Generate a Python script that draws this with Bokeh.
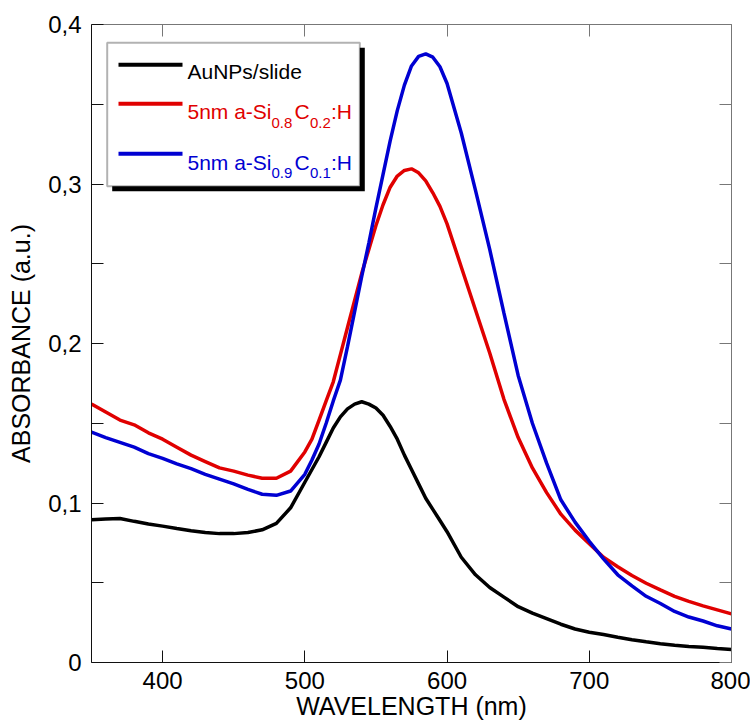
from bokeh.plotting import figure
from bokeh.models import Range1d, LinearAxis, FixedTicker, Label, BoxAnnotation, CustomJSTickFormatter
from bokeh.embed import file_html
from bokeh.resources import INLINE

# ---------------- data ----------------
WAVELENGTH = [350, 360, 370, 380, 390, 400, 410, 420, 430, 440, 450, 460, 470, 480, 490,
              500, 505, 510, 515, 520, 525, 530, 535, 540, 545, 550, 555, 560, 565, 570,
              575, 580, 585, 590, 595, 600, 610, 620, 630, 640, 650, 660, 670, 680, 690,
              700, 710, 720, 730, 740, 750, 760, 770, 780, 790, 800]

AUNPS_SLIDE = [0.0895, 0.0900, 0.0903, 0.0885, 0.0868, 0.0855, 0.0840, 0.0826, 0.0815, 0.0808,
               0.0808, 0.0815, 0.0832, 0.0872, 0.0970, 0.1130, 0.1210, 0.1290, 0.1380, 0.1470,
               0.1540, 0.1590, 0.1620, 0.1635, 0.1620, 0.1595, 0.1550, 0.1480, 0.1400, 0.1300,
               0.1210, 0.1120, 0.1030, 0.0960, 0.0890, 0.0820, 0.0660, 0.0550, 0.0470, 0.0410,
               0.0350, 0.0310, 0.0275, 0.0240, 0.0210, 0.0190, 0.0175, 0.0158, 0.0143, 0.0130,
               0.0118, 0.0108, 0.0100, 0.0095, 0.0088, 0.0082]

SIC_08_02 = [0.1620, 0.1570, 0.1520, 0.1490, 0.1440, 0.1400, 0.1350, 0.1300, 0.1260, 0.1220,
             0.1200, 0.1175, 0.1155, 0.1155, 0.1200, 0.1320, 0.1400, 0.1520, 0.1640, 0.1760,
             0.1930, 0.2100, 0.2270, 0.2440, 0.2590, 0.2740, 0.2870, 0.2980, 0.3050, 0.3085,
             0.3095, 0.3070, 0.3020, 0.2945, 0.2860, 0.2750, 0.2480, 0.2210, 0.1940, 0.1650,
             0.1410, 0.1220, 0.1065, 0.0930, 0.0830, 0.0745, 0.0660, 0.0600, 0.0545, 0.0497,
             0.0455, 0.0415, 0.0383, 0.0355, 0.0330, 0.0305]

SIC_09_01 = [0.1444, 0.1410, 0.1380, 0.1350, 0.1310, 0.1280, 0.1245, 0.1215, 0.1180, 0.1150,
             0.1120, 0.1085, 0.1055, 0.1048, 0.1075, 0.1180, 0.1270, 0.1370, 0.1500, 0.1640,
             0.1770, 0.1980, 0.2200, 0.2420, 0.2630, 0.2850, 0.3060, 0.3270, 0.3460, 0.3620,
             0.3740, 0.3800, 0.3816, 0.3795, 0.3735, 0.3630, 0.3320, 0.2960, 0.2590, 0.2190,
             0.1800, 0.1500, 0.1250, 0.1020, 0.0880, 0.0760, 0.0650, 0.0550, 0.0480, 0.0415,
             0.0370, 0.0320, 0.0285, 0.0260, 0.0230, 0.0210]

X_TICKS = [400, 500, 600, 700, 800]
Y_TICKS = [0, 0.1, 0.2, 0.3, 0.4]
Y_TICK_LABELS = ["0", "0,1", "0,2", "0,3", "0,4"]
Y_MINOR = [0.05, 0.15, 0.25, 0.35]
X_LABEL = "WAVELENGTH (nm)"
Y_LABEL = "ABSORBANCE (a.u.)"

# ---------------- layout ----------------
W, H = 750, 726
BL, BT = 91, 24
BR, BB = W - 731, H - 662
X0, X1, Y0, Y1 = 350, 800, 0.0, 0.4
FW = W - BL - BR
FH = H - BT - BB
FONT = "Liberation Sans"
RED = "#e00000"
BLUE = "#0000d2"


def dx(px):
    return X0 + (px - BL) / FW * (X1 - X0)


def dy(py):
    return Y1 - (py - BT) / FH * (Y1 - Y0)


p = figure(width=W, height=H, output_backend="svg", toolbar_location=None,
           x_range=Range1d(X0, X1), y_range=Range1d(Y0, Y1),
           min_border_left=BL, min_border_right=BR, min_border_top=BT, min_border_bottom=BB)
p.grid.visible = False
p.outline_line_color = None
p.background_fill_color = "white"
p.border_fill_color = "white"

# bottom axis
xa = p.xaxis[0]
xa.ticker = FixedTicker(ticks=X_TICKS, minor_ticks=[])
xa.major_tick_in = 12
xa.major_tick_out = 0
xa.axis_line_color = "#111111"
xa.major_tick_line_color = "#111111"
xa.major_label_text_font = FONT
xa.major_label_text_font_size = "24px"
xa.major_label_text_color = "black"
xa.major_label_standoff = 9
xa.axis_label = X_LABEL
xa.axis_label_text_font = FONT
xa.axis_label_text_font_size = "25px"
xa.axis_label_text_font_style = "normal"
xa.axis_label_text_color = "black"
xa.axis_label_standoff = 0

# left axis
ya = p.yaxis[0]
ya.ticker = FixedTicker(ticks=Y_TICKS, minor_ticks=Y_MINOR)
ya.major_label_overrides = {t: s for t, s in zip(Y_TICKS, Y_TICK_LABELS)}
ya.major_tick_in = 12
ya.major_tick_out = 0
ya.minor_tick_in = 12
ya.minor_tick_out = 0
ya.axis_line_color = "#111111"
ya.major_tick_line_color = "#111111"
ya.minor_tick_line_color = "#111111"
ya.major_label_text_font = FONT
ya.major_label_text_font_size = "24px"
ya.major_label_text_color = "black"
ya.major_label_standoff = 10
ya.axis_label = Y_LABEL
ya.axis_label_text_font = FONT
ya.axis_label_text_font_size = "25px"
ya.axis_label_text_font_style = "normal"
ya.axis_label_text_color = "black"
ya.axis_label_standoff = 10

blank = CustomJSTickFormatter(code="return ''")
top = LinearAxis(ticker=FixedTicker(ticks=X_TICKS, minor_ticks=[]), formatter=blank,
                 major_tick_in=12, major_tick_out=0, axis_line_color="#777777",
                 major_tick_line_color="#777777", major_label_text_font_size="1px",
                 major_label_standoff=0)
right = LinearAxis(ticker=FixedTicker(ticks=Y_TICKS, minor_ticks=Y_MINOR), formatter=blank,
                   major_tick_in=12, major_tick_out=0, minor_tick_in=12, minor_tick_out=0,
                   axis_line_color="#777777", major_tick_line_color="#777777",
                   minor_tick_line_color="#777777", major_label_text_font_size="1px",
                   major_label_standoff=0)
p.add_layout(top, "above")
p.add_layout(right, "right")

# curves
p.line(WAVELENGTH, AUNPS_SLIDE, line_color="black", line_width=3.5)
p.line(WAVELENGTH, SIC_08_02, line_color=RED, line_width=3.5)
p.line(WAVELENGTH, SIC_09_01, line_color=BLUE, line_width=3.5)

# legend (drawn by hand for subscripts)
shadow = BoxAnnotation(left=dx(111.7), right=dx(364.3), top=dy(47.3), bottom=dy(190.7),
                       fill_color="black", fill_alpha=1.0, line_color=None, level="underlay")
box = BoxAnnotation(left=dx(106.7), right=dx(359.3), top=dy(42.3), bottom=dy(185.7),
                    fill_color="white", fill_alpha=1.0, line_color="black", line_width=2,
                    level="underlay")
p.add_layout(shadow)
p.add_layout(box)

for ypx, col in [(64.3, "black"), (103.3, RED), (153.3, BLUE)]:
    p.segment(x0=[dx(118)], y0=[dy(ypx)], x1=[dx(182)], y1=[dy(ypx)],
              line_color=col, line_width=4)


def put(text, xpx, ypx, color, size):
    p.add_layout(Label(x=dx(xpx), y=dy(ypx), text=text, text_color=color,
                       text_font=FONT, text_font_size=size, text_align="left",
                       text_baseline="alphabetic"))


put("AuNPs/slide", 187, 71, "black", "21px")
for (base, sub, col, s1, s2) in [(111, 122, RED, "0.8", "0.2"), (161.7, 172.5, BLUE, "0.9", "0.1")]:
    put("5nm a-Si", 187, base, col, "21px")
    put(s1, 271, sub, col, "15px")
    put("C", 294, base, col, "21px")
    put(s2, 309.5, sub, col, "15px")
    put(":H", 330.5, base, col, "21px")

open("out.html", "w").write(file_html(p, INLINE))
